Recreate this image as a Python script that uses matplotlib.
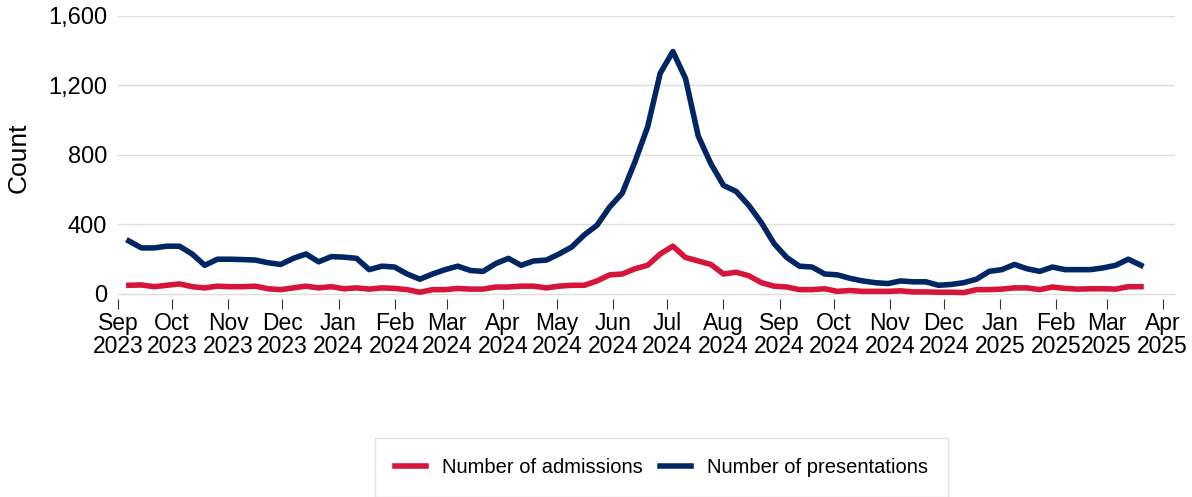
import numpy as np
import pandas as pd
import matplotlib.pyplot as plt
import matplotlib.dates as mdates
from matplotlib.ticker import FuncFormatter

plt.rcParams['font.family'] = ['Liberation Sans', 'DejaVu Sans']

weeks = pd.date_range("2023-09-07", periods=81, freq="7D")

presentations = [305, 265, 265, 275, 275, 230, 165, 200, 200, 198,
                 195, 180, 170, 205, 230, 185, 215, 212, 205, 140,
                 160, 155, 115, 85, 115, 140, 160, 135, 130, 175,
                 205, 165, 190, 195, 230, 270, 340, 395, 500, 580,
                 760, 960, 1270, 1395, 1240, 910, 750, 625, 590, 510,
                 410, 290, 210, 160, 155, 115, 110, 90, 75, 65,
                 60, 75, 70, 70, 50, 55, 65, 85, 130, 140,
                 170, 145, 130, 155, 140, 140, 140, 150, 165, 200, 165]

admissions = [50, 52, 42, 50, 58, 42, 35, 45, 42, 42,
              45, 30, 25, 35, 45, 35, 42, 30, 35, 28,
              35, 32, 25, 10, 25, 25, 32, 28, 28, 40,
              40, 45, 45, 35, 45, 50, 50, 75, 110, 115,
              145, 165, 230, 275, 210, 190, 170, 115, 125, 105,
              65, 45, 40, 25, 25, 30, 15, 20, 15, 15,
              15, 18, 12, 12, 10, 10, 8, 25, 25, 28,
              35, 35, 25, 40, 32, 28, 30, 30, 28, 42, 42]

fig = plt.figure(figsize=(11.92, 4.97), dpi=100)
ax = fig.add_axes([0.099, 0.398, 0.887, 0.57])

ax.plot(weeks, admissions, color="#d6153a", lw=4, label="Number of admissions")
ax.plot(weeks, presentations, color="#002664", lw=4, label="Number of presentations")

ax.set_ylim(-30, 1600)
ax.set_yticks([0, 400, 800, 1200, 1600])
ax.yaxis.set_major_formatter(FuncFormatter(lambda v, p: f"{int(v):,}"))
ax.set_xlim(pd.Timestamp("2023-09-01"), pd.Timestamp("2025-04-08"))
ax.xaxis.set_major_locator(mdates.MonthLocator())
ax.xaxis.set_major_formatter(mdates.DateFormatter("%b\n%Y"))
ax.grid(axis="y", color="#dddddd", lw=1)
ax.set_axisbelow(True)
for s in ax.spines.values():
    s.set_visible(False)
ax.tick_params(axis="y", length=0, labelsize=17, pad=8)
ax.tick_params(axis="x", length=7, labelsize=16.5, color="#333333", pad=2)
for lab in ax.get_xticklabels():
    lab.set_linespacing(1.0)
ax.set_ylabel("Count", fontsize=19, labelpad=12)

fig.legend(loc="center", bbox_to_anchor=(0.555, 0.06), ncol=2, fontsize=14.5,
           frameon=True, fancybox=False, edgecolor="#dddddd",
           borderpad=1.0, handlelength=1.5, columnspacing=0.9)

fig.savefig("out.png")
